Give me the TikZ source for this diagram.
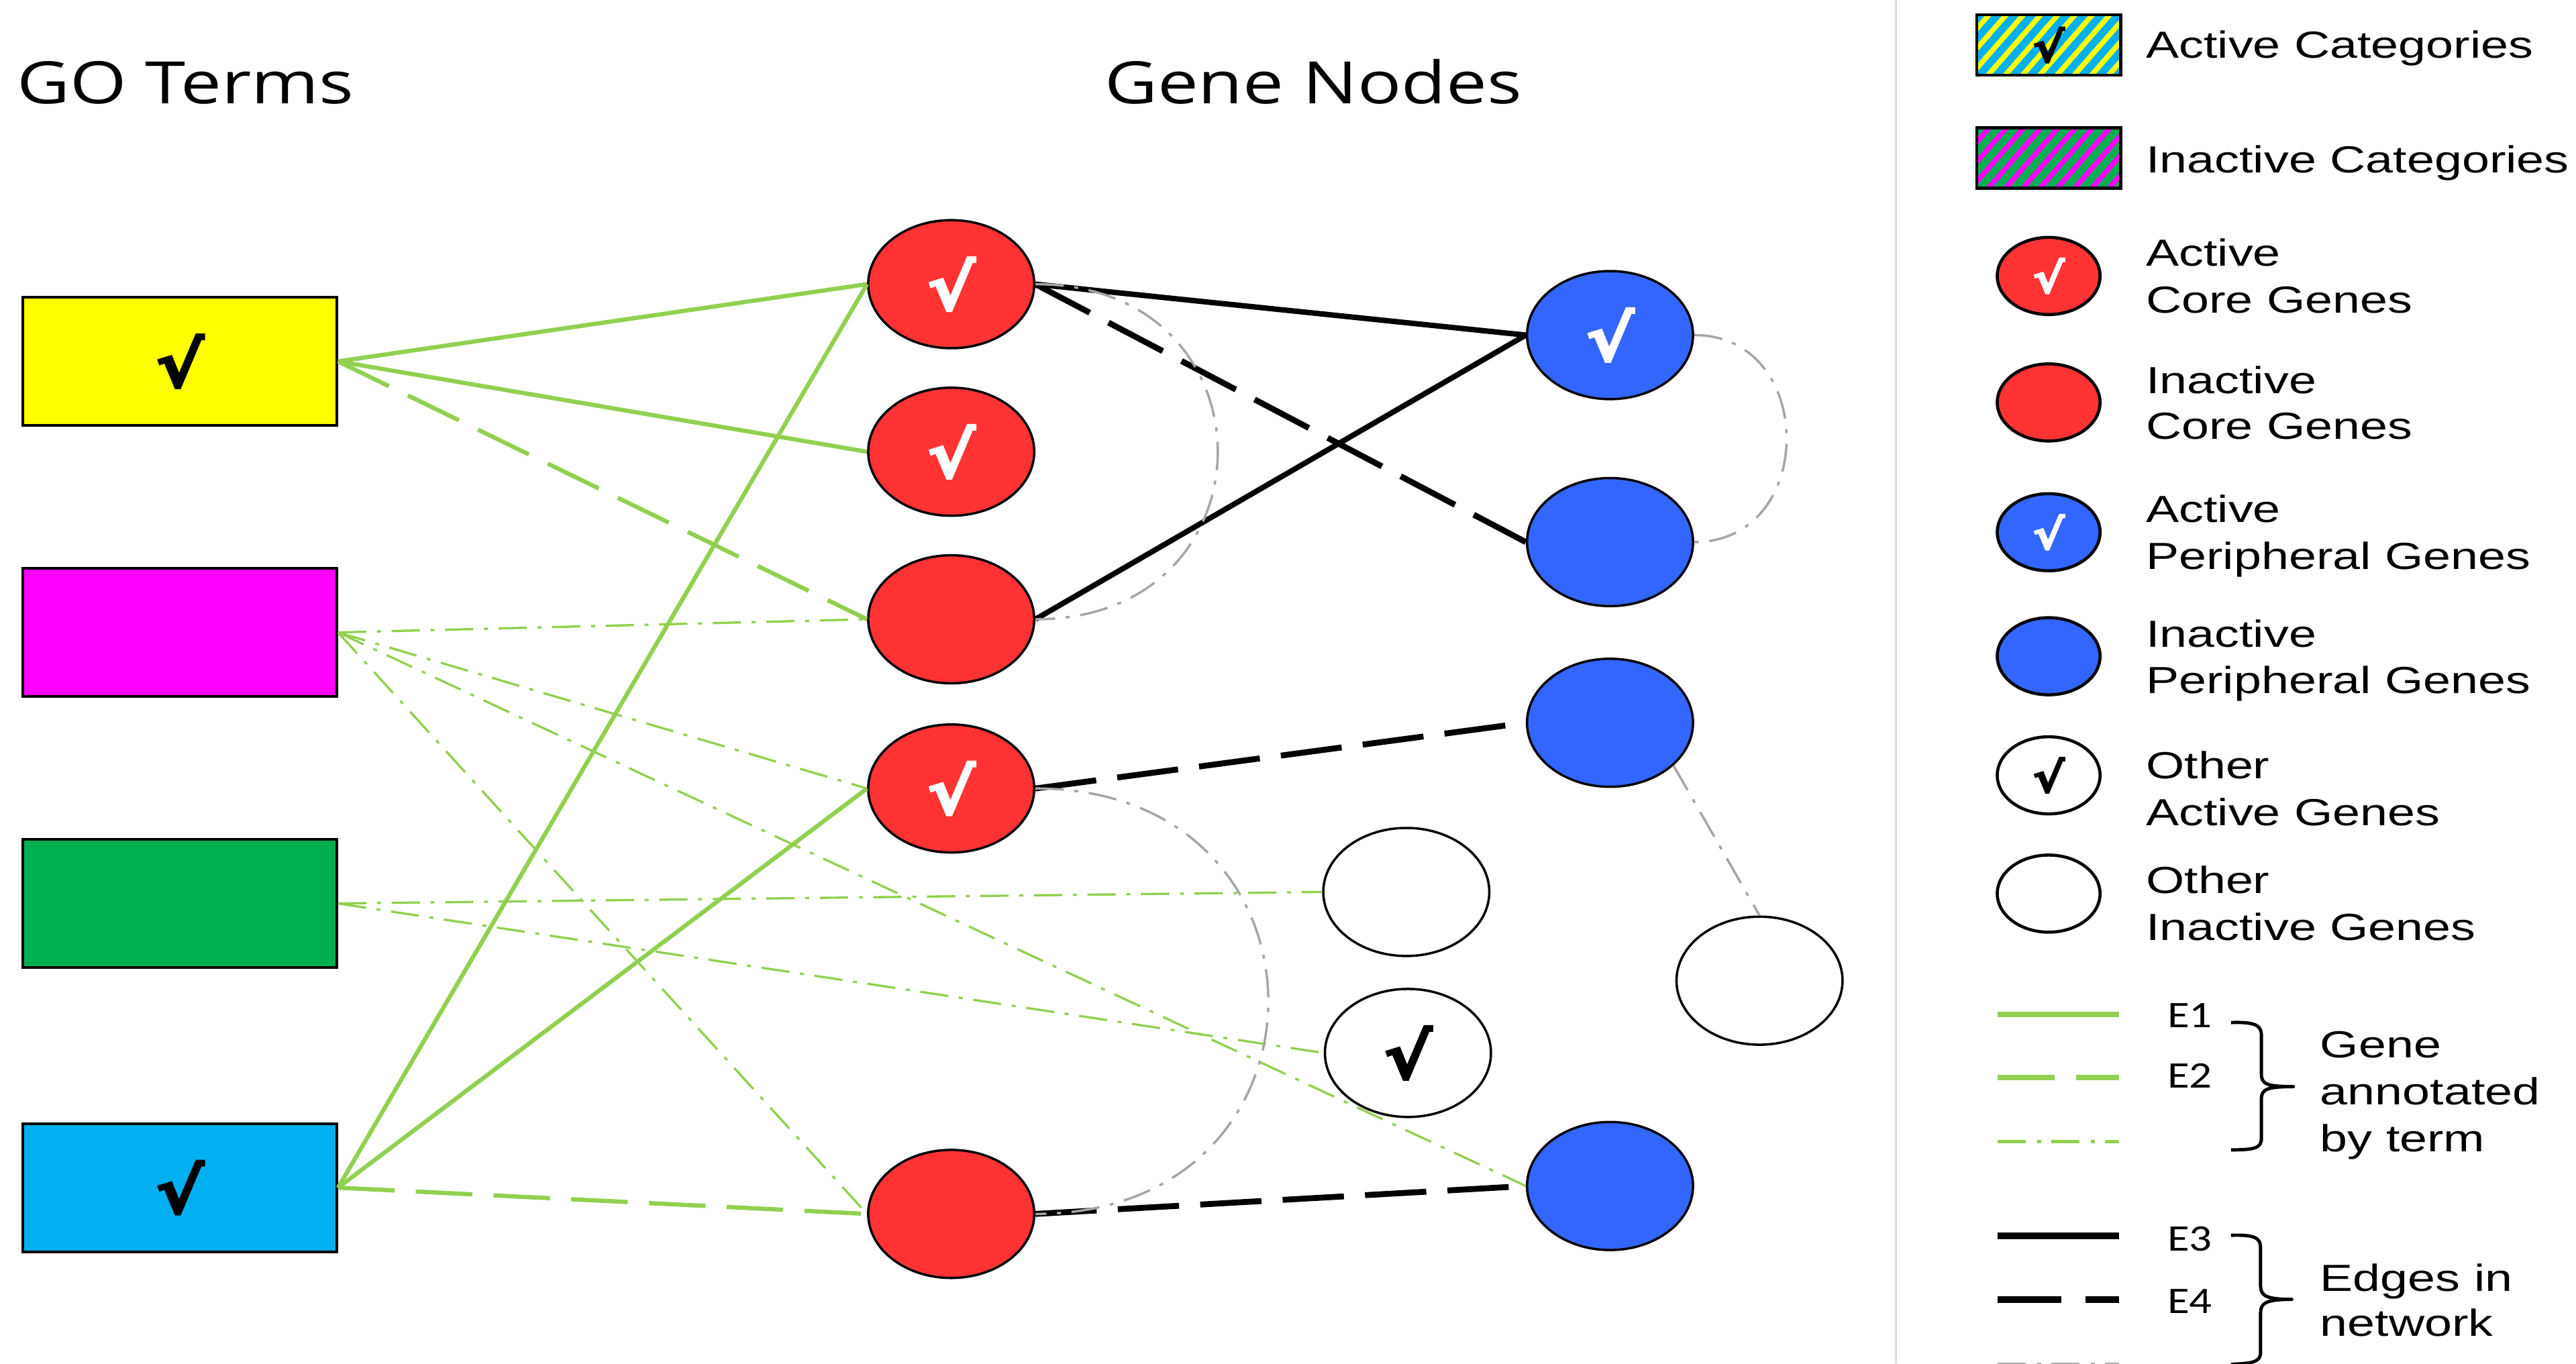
\documentclass[tikz,border=0pt]{standalone}
\usepackage{fontspec}
\setmainfont{Liberation Sans}[FakeStretch=1.31]
\newfontfamily\titlefont{Open Sans}[FakeStretch=1.245]
\newfontfamily\calfont{Carlito}[FakeStretch=1.2]
\newfontfamily\chkfont{DejaVu Sans Bold}[FakeStretch=1.15, FakeBold=3.5]
\usetikzlibrary{shapes.geometric}
\definecolor{redc}{HTML}{FF3333}
\definecolor{bluec}{HTML}{3366FF}
\definecolor{yellowc}{HTML}{FFFF00}
\definecolor{magentac}{HTML}{FF00FF}
\definecolor{greenc}{HTML}{00B050}
\definecolor{cyanc}{HTML}{00B0F0}
\definecolor{lgreen}{HTML}{92D050}
\definecolor{grayc}{HTML}{A6A6A6}
\definecolor{sepc}{HTML}{D9D9D9}
\tikzset{
  gobox/.style={draw=black, line width=1.1pt, minimum width=133pt, minimum height=54.3pt, inner sep=0pt},
  gene/.style={ellipse, draw=black, line width=1pt, minimum width=70.4pt, minimum height=54.3pt, inner sep=0pt},
  lgene/.style={ellipse, draw=black, line width=1.3pt, minimum width=43.6pt, minimum height=32.7pt, inner sep=0pt},
  chk/.style={font=\chkfont\fontsize{26.5}{26.5}\selectfont},
  lchk/.style={font=\chkfont\fontsize{17.5}{17.5}\selectfont},
  title/.style={font=\titlefont\fontsize{24.8}{26}\selectfont, anchor=base west, inner sep=0pt},
  ltext/.style={font=\fontsize{16}{18}\selectfont, anchor=base west, inner sep=0pt},
  elab/.style={font=\calfont\fontsize{15.9}{17}\selectfont, anchor=west, inner sep=0pt},
  gsolid/.style={draw=lgreen, line width=1.8pt},
  gdash/.style={draw=lgreen, line width=1.8pt, dash pattern=on 24pt off 9pt},
  gdot/.style={draw=lgreen, line width=0.95pt, dash pattern=on 12pt off 4.5pt on 1.7pt off 4.5pt},
  bsolid/.style={draw=black, line width=2.3pt},
  bdash/.style={draw=black, line width=2.5pt, dash pattern=on 26pt off 9pt},
  graydd/.style={draw=grayc, line width=1pt, dash pattern=on 12pt off 4.5pt on 1.7pt off 4.5pt},
  bracestyle/.style={draw=black, line width=1.4pt, line join=round}
}
\begin{document}
\begin{tikzpicture}[x=0.6966pt, y=-0.6966pt]
\useasboundingbox (0,0) rectangle (1568,830);
% separator
\draw[sepc, line width=1pt] (1154,0) -- (1154,830);
% titles
\node[title] (t1) at (10,63.3) {GO Terms};
\node[title] (t2) at (672,63.3) {Gene Nodes};
% GO term boxes
\node[gobox, fill=yellowc, chk] (Y) at (109.5,220) {√};
\node[gobox, fill=magentac] (M) at (109.5,385) {};
\node[gobox, fill=greenc] (G) at (109.5,550) {};
\node[gobox, fill=cyanc, chk] (C) at (109.5,723) {√};
% red core genes
\node[gene, fill=redc, text=white, chk] (R1) at (579,173) {√};
\node[gene, fill=redc, text=white, chk] (R2) at (579,275) {√};
\node[gene, fill=redc] (R3) at (579,377) {};
\node[gene, fill=redc, text=white, chk] (R4) at (579,480) {√};
\node[gene, fill=redc] (R5) at (579,739) {};
% blue peripheral genes
\node[gene, fill=bluec, text=white, chk] (B1) at (980,204) {√};
\node[gene, fill=bluec] (B2) at (980,330) {};
\node[gene, fill=bluec] (B3) at (980,440) {};
\node[gene, fill=bluec] (B4) at (980,722) {};
% other genes
\node[gene, fill=white] (W1) at (856,543) {};
\node[gene, fill=white, chk] (W2) at (857,641) {√};
\node[gene, fill=white] (W3) at (1071,597) {};
% green annotation edges
\draw[gsolid] (Y.east) -- (R1.west);
\draw[gsolid] (Y.east) -- (R2.west);
\draw[gdash] (Y.east) -- (R3.west);
\draw[gdot] (M.east) -- (R3.west);
\draw[gdot] (M.east) -- (R4.west);
\draw[gdot] (M.east) -- (R5.west);
\draw[gdot] (M.east) -- (B4.west);
\draw[gdot] (G.east) -- (W1.west);
\draw[gdot] (G.east) -- (W2.west);
\draw[gsolid] (C.east) -- (R1.west);
\draw[gsolid] (C.east) -- (R4.west);
\draw[gdash] (C.east) -- (R5.west);
% network edges
\draw[bsolid] (R1.east) -- (B1.west);
\draw[bdash] (R1.east) -- (B2.west);
\draw[bsolid] (R3.east) -- (B1.west);
\draw[bdash] (R4.east) -- (B3.west);
\draw[bdash] (R5.east) -- (B4.west);
% gray dash-dot edges
\draw[graydd] (R1.east) .. controls +(148,0) and +(148,0) .. (R3.east);
\draw[graydd] (B1.east) .. controls +(75,0) and +(75,0) .. (B2.east);
\draw[graydd] (R4.east) .. controls +(189,0) and +(189,0) .. (R5.east);
\draw[graydd] (B3.-34) -- (W3.north);
% ---------- legend ----------
\begin{scope}
  \clip (1203.3,9) rectangle (1290.8,45.7);
  \fill[cyanc] (1203.3,9) rectangle (1290.8,45.7);
  \foreach \k in {0,...,15} \draw[yellowc, line width=2.2pt] (1160+\k*10.5,55) -- ++(48,-55);
\end{scope}
\node[draw=black, line width=1.3pt, minimum width=61pt, minimum height=25.6pt, inner sep=0pt, lchk] (LA) at (1247,27.4) {√};
\begin{scope}
  \clip (1203.3,78) rectangle (1290.8,114.4);
  \fill[greenc] (1203.3,78) rectangle (1290.8,114.4);
  \foreach \k in {0,...,15} \draw[magentac, line width=2.2pt] (1160+\k*10.5,124) -- ++(48,-55);
\end{scope}
\node[draw=black, line width=1.3pt, minimum width=61pt, minimum height=25.6pt, inner sep=0pt] (LI) at (1247,96.2) {};
\node[ltext] (LAt) at (1306,35.5) {Active Categories};
\node[ltext] (LIt) at (1306,105) {Inactive Categories};

\node[lgene, fill=redc, text=white, lchk] (L1) at (1247,168) {√};
\node[lgene, fill=redc] (L2) at (1247,245) {};
\node[lgene, fill=bluec, text=white, lchk] (L3) at (1247,324) {√};
\node[lgene, fill=bluec] (L4) at (1247,399.5) {};
\node[lgene, fill=white, lchk] (L5) at (1247,472) {√};
\node[lgene, fill=white] (L6) at (1247,544) {};

\node[ltext] (L1a) at (1306,162) {Active};
\node[ltext] (L1b) at (1306,190.5) {Core Genes};
\node[ltext] (L2a) at (1306,239.5) {Inactive};
\node[ltext] (L2b) at (1306,267.5) {Core Genes};
\node[ltext] (L3a) at (1306,318) {Active};
\node[ltext] (L3b) at (1306,346.5) {Peripheral Genes};
\node[ltext] (L4a) at (1306,394) {Inactive};
\node[ltext] (L4b) at (1306,422) {Peripheral Genes};
\node[ltext] (L5a) at (1306,474) {Other};
\node[ltext] (L5b) at (1306,502.5) {Active Genes};
\node[ltext] (L6a) at (1306,544) {Other};
\node[ltext] (L6b) at (1306,572.6) {Inactive Genes};

% legend lines
\coordinate (e1a) at (1216,617.6); \coordinate (e1b) at (1290,617.6);
\coordinate (e2a) at (1216,656);   \coordinate (e2b) at (1290,656);
\coordinate (e5a) at (1216,695);   \coordinate (e5b) at (1290,695);
\coordinate (e3a) at (1216,752.5); \coordinate (e3b) at (1290,752.5);
\coordinate (e4a) at (1216,791);   \coordinate (e4b) at (1290,791);
\coordinate (e6a) at (1216,831.5); \coordinate (e6b) at (1290,831.5);
\draw[draw=lgreen, line width=2.3pt] (e1a) -- (e1b);
\draw[draw=lgreen, line width=2.3pt, dash pattern=on 24.2pt off 9pt] (e2a) -- (e2b);
\draw[draw=lgreen, line width=1.4pt, dash pattern=on 12pt off 4.8pt on 1.7pt off 4.2pt] (e5a) -- (e5b);
\draw[draw=black, line width=2.8pt] (e3a) -- (e3b);
\draw[draw=black, line width=2.8pt, dash pattern=on 27pt off 10.2pt] (e4a) -- (e4b);
\draw[draw=grayc, line width=2.8pt, dash pattern=on 12pt off 4.8pt on 1.7pt off 4.2pt] (e6a) -- (e6b);

\node[elab] (E1) at (1319,618) {E1};
\node[elab] (E2) at (1319,655) {E2};
\node[elab] (E3) at (1319,754) {E3};
\node[elab] (E4) at (1319,792) {E4};

% braces
\draw[bracestyle] (1358,622.5) .. controls (1372,622) and (1376.5,624) .. (1376.5,630)
  -- (1376.5,654) .. controls (1376.5,660) and (1380,661.5) .. (1396,661.5)
  .. controls (1380,661.5) and (1376.5,663) .. (1376.5,669)
  -- (1376.5,693) .. controls (1376.5,699) and (1372,700) .. (1358,700);
\draw[bracestyle] (1358,752) .. controls (1372,751.5) and (1376,753.5) .. (1376,759.5)
  -- (1376,783) .. controls (1376,789) and (1380,791) .. (1395,791)
  .. controls (1380,791) and (1376,793) .. (1376,799)
  -- (1376,823) .. controls (1376,829) and (1372,830) .. (1358,830.5);

\node[ltext] (GA1) at (1412,644) {Gene};
\node[ltext] (GA2) at (1412,672.5) {annotated};
\node[ltext] (GA3) at (1412,701) {by term};
\node[ltext] (EN1) at (1412,786) {Edges in};
\node[ltext] (EN2) at (1412,813.5) {network};
\end{tikzpicture}
\end{document}
